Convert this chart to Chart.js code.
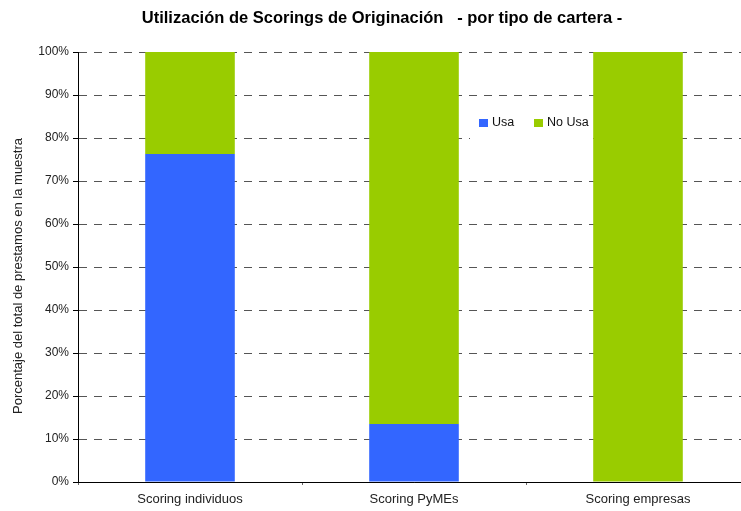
<!DOCTYPE html>
<html>
<head>
<meta charset="utf-8">
<script src="https://cdn.jsdelivr.net/npm/chart.js@4/dist/chart.umd.min.js"></script>
<style>
    html, body { margin: 0; padding: 0; background: #fff; overflow: hidden; }
    #wrap { width: 750px; height: 511px; }
</style>
</head>
<body>
<div id="wrap"><canvas id="myBarChart" width="750" height="511"></canvas></div>
<script>
const categories = ['Scoring individuos', 'Scoring PyMEs', 'Scoring empresas'];
const usa = [76.3, 13.5, 0];      // Usa
const noUsa = [23.7, 86.5, 100];  // No Usa
const seriesNames = ['Usa', 'No Usa'];
const seriesColors = ['#3366FF', '#99CC00'];

const chartTitle = 'Utilización de Scorings de Originación   - por tipo de cartera -';
const yTitle = 'Porcentaje del total de prestamos en la muestra';
const FONT = '"Liberation Sans", Arial, sans-serif';

// titulo, titulo del eje y y leyenda dibujados a mano
const decorations = {
    id: 'decorations',
    afterDraw(chart) {
        const ctx = chart.ctx;
        ctx.save();

        ctx.fillStyle = '#000';
        ctx.font = 'bold 16.5px ' + FONT;
        ctx.textAlign = 'center';
        ctx.textBaseline = 'middle';
        ctx.fillText(chartTitle, 382, 18);

        ctx.save();
        ctx.translate(18, 276);
        ctx.rotate(-Math.PI / 2);
        ctx.fillStyle = '#222';
        ctx.font = '13px ' + FONT;
        ctx.fillText(yTitle, 0, 0);
        ctx.restore();

        ctx.fillStyle = '#fff';
        ctx.fillRect(470, 106, 123, 35);
        ctx.font = '12.5px ' + FONT;
        ctx.textAlign = 'left';
        let x = 479;
        chart.data.datasets.forEach(function(ds) {
            ctx.fillStyle = ds.backgroundColor;
            ctx.fillRect(x, 119, 9, 8);
            ctx.fillStyle = '#111';
            ctx.fillText(ds.label, x + 13, 123);
            x += 55;
        });
        ctx.restore();
    }
};

const config = {
    type: 'bar',
    data: {
        labels: categories,
        datasets: [
            { label: seriesNames[0], data: usa, backgroundColor: seriesColors[0] },
            { label: seriesNames[1], data: noUsa, backgroundColor: seriesColors[1] }
        ]
    },
    options: {
        responsive: false,
        animation: false,
        layout: { padding: { left: 0, right: 0, top: 52, bottom: 0 } },
        datasets: {
            bar: { barPercentage: 0.4, categoryPercentage: 1.0 }
        },
        plugins: {
            legend: { display: false },
            tooltip: { enabled: false },
            title: { display: false }
        },
        scales: {
            x: {
                stacked: true,
                grid: {
                    display: true,
                    offset: true,
                    drawOnChartArea: false,
                    tickLength: 3,
                    tickColor: '#666'
                },
                border: { color: '#000', width: 1 },
                ticks: {
                    color: '#222',
                    padding: 7,
                    font: { family: FONT, size: 13 }
                },
                afterFit(scale) { scale.height = 29; }
            },
            y: {
                stacked: true,
                min: 0,
                max: 100,
                grid: {
                    color: '#555',
                    tickLength: 5,
                    tickColor: '#000',
                    tickBorderDash: []
                },
                border: { color: '#000', width: 1, dash: [8, 7] },
                ticks: {
                    stepSize: 10,
                    color: '#222',
                    padding: 4,
                    font: { family: FONT, size: 12 },
                    callback: function(v) { return v + '%'; }
                },
                afterFit(scale) { scale.width = 78; }
            }
        }
    },
    plugins: [decorations]
};

window.onload = function() {
    const ctx = document.getElementById('myBarChart').getContext('2d');
    new Chart(ctx, config);
};
</script>
</body>
</html>
